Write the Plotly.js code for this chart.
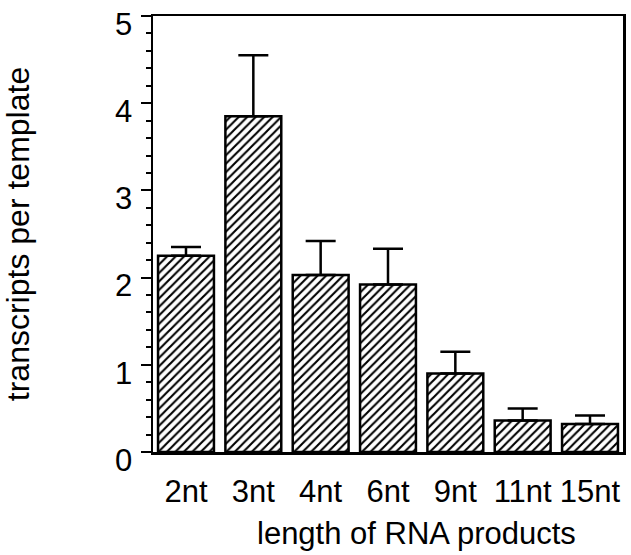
<!DOCTYPE html>
<html>
<head>
<meta charset="utf-8">
<script src="https://cdn.plot.ly/plotly-3.0.1.min.js"></script>
<style>html,body{margin:0;padding:0;background:#fff;}#chart{width:631px;height:555px;}</style>
</head>
<body>
<div id="chart"></div>
<script>
const categories = ["2nt", "3nt", "4nt", "6nt", "9nt", "11nt", "15nt"];
const transcripts = [2.25, 3.85, 2.03, 1.92, 0.90, 0.36, 0.32];
const errorPlus = [0.10, 0.70, 0.39, 0.41, 0.25, 0.14, 0.10];
const yTickStep = 1;
const yMinorStep = 0.2;
const xTitle = "length of RNA products";
const yTitle = "transcripts per template";

const FONT = "Liberation Sans, Arial, Helvetica, sans-serif";

const trace = {
  type: "bar",
  x: categories,
  y: transcripts,
  marker: {
    color: "white",
    line: {color: "black", width: 2.5},
    pattern: {shape: "/", fgcolor: "black", bgcolor: "white", size: 6, solidity: 0.35}
  },
  error_y: {
    type: "data",
    symmetric: false,
    array: errorPlus,
    arrayminus: errorPlus.map(() => 0),
    color: "black",
    thickness: 2.5,
    width: 15
  },
  hoverinfo: "none"
};

const layout = {
  width: 631,
  height: 555,
  margin: {l: 153, r: 8, t: 16, b: 103, pad: 0},
  paper_bgcolor: "white",
  plot_bgcolor: "white",
  font: {family: FONT, size: 31, color: "black"},
  showlegend: false,
  bargap: 0.17,
  xaxis: {
    type: "category",
    range: [-0.49, 6.49],
    showline: true,
    linecolor: "black",
    linewidth: 2.5,
    mirror: true,
    ticks: "",
    showgrid: false,
    zeroline: false,
    tickfont: {family: FONT, size: 31, color: "black"},
    ticklabelstandoff: 10
  },
  yaxis: {
    range: [0, 5],
    tickmode: "linear",
    tick0: 0,
    dtick: yTickStep,
    showline: true,
    linecolor: "black",
    linewidth: 2.5,
    mirror: true,
    ticks: "outside",
    ticklen: 10,
    tickwidth: 2,
    tickcolor: "black",
    minor: {dtick: yMinorStep, ticks: "outside", ticklen: 5, tickwidth: 2, tickcolor: "black", showgrid: false},
    showgrid: false,
    zeroline: false,
    tickfont: {family: FONT, size: 31, color: "black"},
    ticklabeloverflow: "allow",
    ticklabelstandoff: 2,
    ticklabelshift: 8,
    title: {text: yTitle, font: {family: FONT, size: 32, color: "black"}, standoff: 76}
  },
  annotations: [{
    text: xTitle,
    xref: "paper", yref: "paper",
    x: 0.56, y: -0.186,
    xanchor: "center", yanchor: "middle",
    showarrow: false,
    font: {family: FONT, size: 31, color: "black"}
  }]
};

Plotly.newPlot("chart", [trace], layout, {displayModeBar: false, staticPlot: true});
</script>
</body>
</html>
